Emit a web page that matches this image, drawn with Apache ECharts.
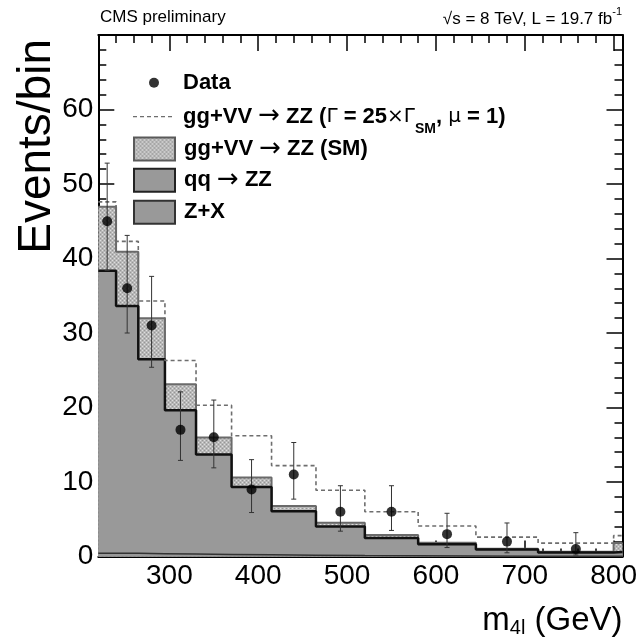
<!DOCTYPE html>
<html><head><meta charset="utf-8">
<script src="https://cdn.jsdelivr.net/npm/echarts@6/dist/echarts.min.js"></script>
<style>html,body{margin:0;padding:0;background:#fff}#c{width:639px;height:638px}</style>
</head><body><div id="c"></div>
<script>
// ---- data ----
const binEdges = [220, 240, 265, 295, 330, 370, 415, 465, 520, 580, 645, 715, 800, 810];
const zxValues = [0.45, 0.42, 0.38, 0.33, 0.28, 0.22, 0.17, 0.12, 0.09, 0.06, 0.04, 0.03, 0.02];
const qqValues = [37.9, 33.2, 26.1, 19.3, 13.4, 9.1, 5.9, 3.9, 2.4, 1.6, 0.9, 0.5, 0.6];
const ggSMValues = [8.6, 7.3, 5.5, 3.5, 2.3, 1.3, 0.7, 0.5, 0.4, 0.2, 0.1, 0.1, 1.2];
const gg25Total = [47.6, 42.3, 34.3, 26.3, 20.3, 16.2, 12.2, 8.9, 6.0, 4.1, 2.6, 1.8, 2.8];
const dataCounts = [45, 36, 31, 17, 16, 9, 11, 6, 6, 3, 2, 1];
const dataErrLow = [38.4, 30.0, 25.4, 12.9, 11.9, 5.9, 7.7, 3.4, 3.5, 1.2, 0.5, 0.2];
const dataErrHigh = [52.8, 43.1, 37.6, 22.1, 21.0, 13.0, 15.3, 9.5, 9.5, 5.8, 4.5, 3.2];
const xTickLabels = ['300', '400', '500', '600', '700', '800'];
const yTickLabels = ['0', '10', '20', '30', '40', '50', '60'];

const N_DATA = 'Data';
const N_G25 = 'gg+VV → ZZ (Γ = 25×ΓSM, μ = 1)';
const N_GSM = 'gg+VV → ZZ (SM)';
const N_QQ = 'qq → ZZ';
const N_ZX = 'Z+X';

// ---- helpers ----
const FONT = 'Liberation Sans, Arial, Helvetica, sans-serif';
function stepData(vals) {
  const pts = vals.map((v, i) => [binEdges[i], v]);
  pts.push([binEdges[binEdges.length - 1], vals[vals.length - 1]]);
  return pts;
}
const zxTop = zxValues.slice();
const qqTop = qqValues.map((v, i) => v + zxTop[i]);
const smTop = ggSMValues.map((v, i) => v + qqTop[i]);
const centers = dataCounts.map((_, i) => (binEdges[i] + binEdges[i + 1]) / 2);

function makePattern() {
  const c = document.createElement('canvas');
  c.width = 4; c.height = 4;
  const g = c.getContext('2d');
  g.fillStyle = '#b8b8b8'; g.fillRect(0, 0, 4, 4);
  g.fillStyle = '#dedede'; g.fillRect(0, 0, 1, 1); g.fillRect(2, 2, 1, 1);
  g.fillStyle = '#969696'; g.fillRect(2, 0, 1, 1); g.fillRect(0, 2, 1, 1);
  return c;
}
const smPattern = { image: makePattern(), repeat: 'repeat' };

function axisCommon(showLabels, position) {
  return {
    position: position,
    axisLine: { show: true, onZero: false, lineStyle: { color: '#000', width: 2 } },
    axisTick: { show: true, inside: true, length: 16, lineStyle: { color: '#000', width: 1.5 } },
    minorTick: { show: true, splitNumber: 5, length: 8, lineStyle: { color: '#000', width: 1.5 } },
    splitLine: { show: false },
    minorSplitLine: { show: false },
    axisLabel: showLabels ? {
      show: true, color: '#000', fontFamily: FONT, fontSize: 28
    } : { show: false }
  };
}

const xBottom = Object.assign(axisCommon(true, 'bottom'), {
  type: 'value', min: 220, max: 810, splitNumber: 6,
  name: '{a|m}{s|4l}{a| (GeV)}',
  nameLocation: 'end', nameGap: 0,
  nameTextStyle: {
    align: 'right', verticalAlign: 'top', padding: [46, 0, 0, 0],
    rich: {
      a: { fontFamily: FONT, fontSize: 33, color: '#000', lineHeight: 36 },
      s: { fontFamily: FONT, fontSize: 20, color: '#000', lineHeight: 20, verticalAlign: 'bottom' }
    }
  }
});
xBottom.axisLabel.margin = 6;
xBottom.axisLabel.showMinLabel = false;
xBottom.axisLabel.showMaxLabel = false;
xBottom.axisLabel.formatter = function (v) { const s = String(v); return xTickLabels.indexOf(s) >= 0 ? s : ''; };

const xTop = Object.assign(axisCommon(false, 'top'), { type: 'value', min: 220, max: 810, splitNumber: 6 });

const yLeft = Object.assign(axisCommon(true, 'left'), { type: 'value', min: 0, max: 70, interval: 10 });
yLeft.axisLabel.margin = 5;
yLeft.axisLabel.showMaxLabel = false;
yLeft.axisLabel.formatter = function (v) { const s = String(v); return yTickLabels.indexOf(s) >= 0 ? s : ''; };
const yRight = Object.assign(axisCommon(false, 'right'), { type: 'value', min: 0, max: 70, interval: 10 });

const legendRich = {
  b: { fontFamily: FONT, fontSize: 22, fontWeight: 'bold', color: '#000', lineHeight: 26 },
  y: { fontFamily: 'DejaVu Sans, sans-serif', fontSize: 20, fontWeight: 'normal', color: '#000', lineHeight: 26 },
  a: { fontFamily: 'DejaVu Sans, sans-serif', fontSize: 26, fontWeight: 'normal', color: '#000', lineHeight: 26 },
  s: { fontFamily: FONT, fontSize: 14, fontWeight: 'bold', color: '#000', lineHeight: 14, verticalAlign: 'bottom' }
};
const legendRichSub = Object.assign({}, legendRich, {
  b: Object.assign({}, legendRich.b, { lineHeight: 40 }),
  y: Object.assign({}, legendRich.y, { lineHeight: 40 }),
  a: Object.assign({}, legendRich.a, { lineHeight: 40 }),
  s: { fontFamily: FONT, fontSize: 14, fontWeight: 'bold', color: '#000', lineHeight: 17, verticalAlign: 'bottom' }
});
function legendLabel(name) {
  if (name === N_G25) return '{b|gg+VV }{a|→}{b| ZZ (}{y|Γ}{b| = 25}{y|×Γ}{s|SM}{b|, }{y|μ}{b| = 1)}';
  if (name === N_GSM) return '{b|gg+VV }{a|→}{b| ZZ (SM)}';
  if (name === N_QQ) return '{b|qq }{a|→}{b| ZZ}';
  return '{b|' + name + '}';
}
const legendRowCenters = [82.7, 115, 147.5, 178.7, 211.3];
const dashIcon = 'path://M0,0M41,23M0,10.9h4v1.4h-4zM7,10.9h4v1.4h-4zM14,10.9h4v1.4h-4zM21,10.9h4v1.4h-4zM28,10.9h4v1.4h-4zM35,10.9h4v1.4h-4z';
const legendItems = [
  { name: N_DATA, icon: 'path://M0,0M41,23M16,11.5a5,5 0 1,0 10,0a5,5 0 1,0 -10,0Z', itemStyle: { color: '#000' } },
  { name: N_G25, icon: dashIcon, itemStyle: { color: '#6e6e6e', borderWidth: 0 } },
  { name: N_GSM, icon: 'rect', itemStyle: { color: smPattern, borderColor: '#5a5a5a', borderWidth: 2 } },
  { name: N_QQ, icon: 'rect', itemStyle: { color: '#999', borderColor: '#222', borderWidth: 2 } },
  { name: N_ZX, icon: 'rect', itemStyle: { color: '#999', borderColor: '#333', borderWidth: 2 } }
];
const legends = legendItems.map((it, i) => ({
  orient: 'vertical', left: 133, top: legendRowCenters[i] - 11.5, padding: 0,
  itemWidth: 41, itemHeight: 23, itemGap: 0, selectedMode: false,
  textStyle: { padding: [0, 0, 0, 4], rich: it.name === N_G25 ? legendRichSub : legendRich },
  formatter: legendLabel,
  data: [it]
}));

const option = {
  animation: false,
  backgroundColor: '#fff',
  title: [
    { text: 'CMS preliminary', left: 100, top: 9, padding: 0,
      textStyle: { fontFamily: FONT, fontSize: 17, fontWeight: 'normal', color: '#000' } },
    { text: '{a|√s = 8 TeV, L = 19.7 fb}{s|-1}', right: 17, top: 6, padding: 0,
      textStyle: { fontWeight: 'normal', rich: {
        a: { fontFamily: FONT, fontSize: 17, fontWeight: 'normal', color: '#000', lineHeight: 22, verticalAlign: 'bottom' },
        s: { fontFamily: FONT, fontSize: 11, fontWeight: 'normal', color: '#000', lineHeight: 11, verticalAlign: 'top' } } } }
  ],
  graphic: [
    { type: 'text', x: 60, y: 39, rotation: Math.PI / 2, silent: true,
      style: { text: 'Events/bin', font: '46px ' + FONT, fill: '#000', align: 'right', verticalAlign: 'bottom' } }
  ],
  grid: { left: 98.3, right: 16.5, top: 35, bottom: 81.5, containLabel: false, outerBoundsMode: 'none' },
  xAxis: [xBottom, xTop],
  yAxis: [yLeft, yRight],
  legend: legends,
  series: [
    { name: N_GSM, type: 'line', step: 'end', symbol: 'none', z: 2, data: stepData(smTop),
      lineStyle: { color: '#6a6a6a', width: 2 }, itemStyle: { color: '#6a6a6a' },
      areaStyle: { color: smPattern, opacity: 1 } },
    { name: N_QQ, type: 'line', step: 'end', symbol: 'none', z: 3, data: stepData(qqTop),
      lineStyle: { color: '#111', width: 2.5 }, itemStyle: { color: '#111' },
      areaStyle: { color: '#999', opacity: 1 } },
    { name: N_ZX, type: 'line', step: 'end', symbol: 'none', z: 4, data: stepData(zxTop),
      lineStyle: { color: '#333', width: 1.5 }, itemStyle: { color: '#333' },
      areaStyle: { color: '#999', opacity: 1 } },
    { name: N_G25, type: 'line', step: 'end', symbol: 'none', z: 5, data: stepData(gg25Total),
      lineStyle: { color: '#6e6e6e', width: 1.6, type: [4, 3] }, itemStyle: { color: '#6e6e6e' } },
    { name: 'errors', type: 'custom', z: 9, silent: true,
      data: centers.map((c, i) => [c, dataErrLow[i], dataErrHigh[i]]),
      encode: { x: 0, y: [1, 2] },
      renderItem: function (params, api) {
        const x = api.value(0);
        const lo = api.coord([x, api.value(1)]);
        const hi = api.coord([x, api.value(2)]);
        const cw = 2.5;
        const st = { stroke: '#333', lineWidth: 1 };
        return { type: 'group', children: [
          { type: 'line', shape: { x1: lo[0], y1: lo[1], x2: hi[0], y2: hi[1] }, style: st },
          { type: 'line', shape: { x1: hi[0] - cw, y1: hi[1], x2: hi[0] + cw, y2: hi[1] }, style: st },
          { type: 'line', shape: { x1: lo[0] - cw, y1: lo[1], x2: lo[0] + cw, y2: lo[1] }, style: st }
        ] };
      } },
    { name: N_DATA, type: 'scatter', z: 10, symbol: 'circle', symbolSize: 10,
      itemStyle: { color: '#000' }, data: centers.map((c, i) => [c, dataCounts[i]]) }
  ]
};

const chart = echarts.init(document.getElementById('c'), null, { renderer: 'canvas' });
chart.setOption(option);
</script>
</body></html>
